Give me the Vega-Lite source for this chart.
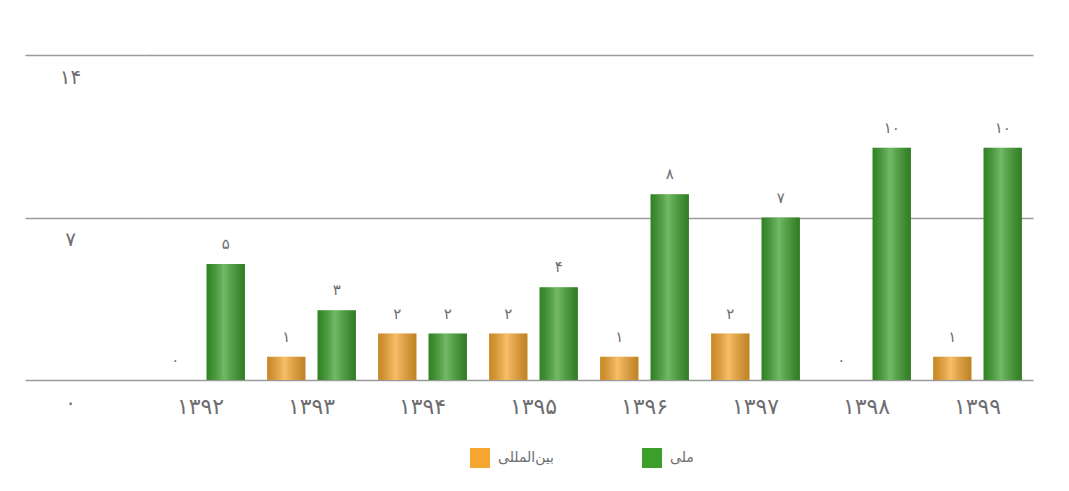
{
  "$schema": "https://vega.github.io/schema/vega-lite/v6.json",
  "width": 888,
  "height": 325,
  "autosize": {"type": "none"},
  "padding": {"left": 145, "top": 55, "right": 36, "bottom": 111},
  "background": "#ffffff",
  "config": {
    "locale": {
      "number": {"decimal": ".", "thousands": ",", "grouping": [3], "currency": ["", ""], "numerals": ["۰", "۱", "۲", "۳", "۴", "۵", "۶", "۷", "۸", "۹"]}
    },
    "view": {"stroke": null},
    "font": "DejaVu Sans"
  },
  "data": {
    "values": [
      {"year": "۱۳۹۲", "series": "بین‌المللی", "value": 0},
      {"year": "۱۳۹۲", "series": "ملی", "value": 5},
      {"year": "۱۳۹۳", "series": "بین‌المللی", "value": 1},
      {"year": "۱۳۹۳", "series": "ملی", "value": 3},
      {"year": "۱۳۹۴", "series": "بین‌المللی", "value": 2},
      {"year": "۱۳۹۴", "series": "ملی", "value": 2},
      {"year": "۱۳۹۵", "series": "بین‌المللی", "value": 2},
      {"year": "۱۳۹۵", "series": "ملی", "value": 4},
      {"year": "۱۳۹۶", "series": "بین‌المللی", "value": 1},
      {"year": "۱۳۹۶", "series": "ملی", "value": 8},
      {"year": "۱۳۹۷", "series": "بین‌المللی", "value": 2},
      {"year": "۱۳۹۷", "series": "ملی", "value": 7},
      {"year": "۱۳۹۸", "series": "بین‌المللی", "value": 0},
      {"year": "۱۳۹۸", "series": "ملی", "value": 10},
      {"year": "۱۳۹۹", "series": "بین‌المللی", "value": 1},
      {"year": "۱۳۹۹", "series": "ملی", "value": 10}
    ]
  },
  "encoding": {
    "x": {
      "field": "year", "type": "nominal", "sort": null,
      "scale": {"paddingInner": 0.2, "paddingOuter": 0.1},
      "axis": {"title": null, "labelAngle": 0, "domain": false, "ticks": false, "labelFontSize": 22, "labelColor": "#6d6e71", "labelPadding": 16, "labelFont": "DejaVu Sans"}
    },
    "xOffset": {
      "field": "series", "type": "nominal",
      "scale": {"domain": ["بین‌المللی", "ملی"], "paddingInner": 0.24}
    },
    "y": {
      "field": "value", "type": "quantitative",
      "scale": {"domain": [0, 14], "nice": false},
      "axis": {"title": null, "values": [0, 7, 14], "format": "d", "domain": false, "grid": true, "gridColor": "#9a9a9a", "gridWidth": 1.5, "tickSize": 120, "tickColor": "#9a9a9a", "tickWidth": 1.5, "labelAlign": "center", "labelBaseline": "middle", "labelPadding": -45, "labelOffset": 22, "labelFontSize": 20, "labelColor": "#6d6e71"}
    }
  },
  "layer": [
    {
      "mark": {"type": "bar", "cornerRadiusTop": 8, "cornerRadiusBottom": 6},
      "encoding": {
        "color": {
          "field": "series", "type": "nominal",
          "scale": {"domain": ["بین‌المللی", "ملی"], "range": ["#f5a62e", "#3c9f2c"]},
          "legend": {"title": null, "orient": "none", "legendX": 325, "legendY": 393, "direction": "horizontal", "symbolType": "square", "symbolSize": 400, "symbolStrokeWidth": 0, "labelFontSize": 14, "labelColor": "#6d6e71", "columnPadding": 88, "labelOffset": 8}
        }
      }
    },
    {
      "mark": {
        "type": "bar", "cornerRadiusTop": 8, "cornerRadiusBottom": 6,
        "fill": {
          "gradient": "linear", "x1": 0, "y1": 0, "x2": 1, "y2": 0,
          "stops": [
            {"offset": 0, "color": "rgba(0,0,0,0.18)"},
            {"offset": 0.45, "color": "rgba(255,255,255,0.28)"},
            {"offset": 1, "color": "rgba(0,0,0,0.22)"}
          ]
        }
      },
      "encoding": {}
    },
    {
      "mark": {"type": "text", "dy": -12, "fontSize": 15, "color": "#6d6e71", "baseline": "bottom"},
      "encoding": {
        "text": {"field": "value", "type": "quantitative", "format": "d"}
      }
    }
  ]
}
